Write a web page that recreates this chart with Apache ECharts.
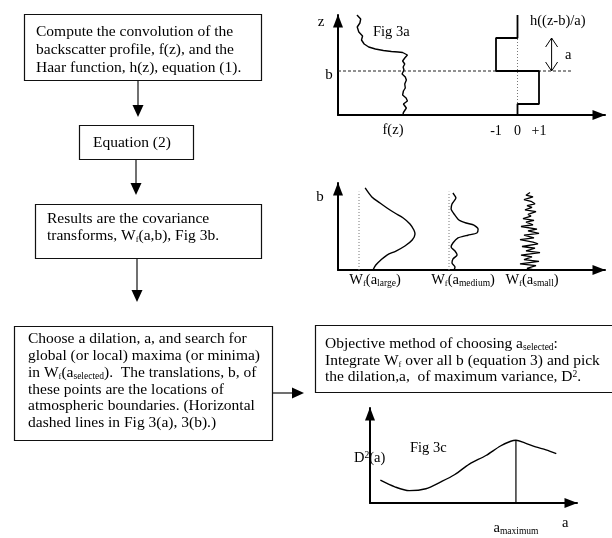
<!DOCTYPE html>
<html>
<head>
<meta charset="utf-8">
<title>Haar wavelet boundary detection</title>
<script src="https://cdn.jsdelivr.net/npm/echarts@6/dist/echarts.min.js"></script>
<style>
  html, body { margin: 0; padding: 0; background: #fff; }
  #chart { width: 612px; height: 538px; }
</style>
</head>
<body>
<div id="chart"></div>
<script>
// ---- Fig 3a: backscatter profile f(z) (height z on 0..10) ----
const profileZ = [10, 9.6, 9.2, 8.8, 8.3, 7.9, 7.5, 7.1, 6.8, 6.6, 6.45, 6.35, 6.3, 6.25, 6.0, 5.7, 5.4, 5.1, 4.8, 4.5, 4.1, 3.8, 3.5, 3.1, 2.7, 2.4, 2.0, 1.7, 1.4, 1.1, 0.9, 0.7, 0.5, 0.25, 0];
const profileF = [0.71, 0.85, 0.82, 0.72, 0.78, 0.92, 0.88, 0.98, 1.15, 1.4, 1.7, 2.0, 2.25, 2.42, 2.6, 2.5, 2.42, 2.5, 2.44, 2.47, 2.4, 2.52, 2.56, 2.5, 2.52, 2.45, 2.42, 2.55, 2.6, 2.45, 2.4, 2.56, 2.6, 2.45, 2.43];

// Haar function h((z-b)/a): translation b, dilation a
const haarB = 4.4;
const haarA = 3.3;
const haarZ = [10, 7.7, 7.7, 4.4, 4.4, 1.1, 1.1, 0];
const haarH = [0, 0, -1, -1, 1, 1, 0, 0];
const haarTicks = ['-1', '0', '+1'];

// ---- Fig 3b: covariance transforms W_f(a, b) for three dilations ----
const largeB = [9.43, 8.4, 7.7, 7.13, 6.55, 5.98, 5.29, 4.6, 4.14, 3.45, 2.76, 2.18, 1.72, 1.15, 0.57, 0];
const largeW = [0.11, 0.23, 0.375, 0.5, 0.64, 0.79, 0.91, 0.98, 1.0, 0.95, 0.82, 0.66, 0.5, 0.39, 0.3, 0.25];
const mediumB = [8.85, 8.28, 7.59, 7.0, 6.3, 5.75, 5.4, 5.17, 4.71, 4.25, 4.0, 3.68, 3.1, 2.64, 2.18, 1.72, 1.26, 0.8, 0.34, 0];
const mediumW = [0.13, 0.23, 0.1, 0.07, 0.2, 0.33, 0.57, 0.83, 0.97, 0.93, 0.63, 0.3, 0.13, 0.07, 0.2, 0.27, 0.13, 0.1, 0.2, 0.17];
const smallB = [8.9, 8.6, 8.4, 8.1, 7.9, 7.6, 7.4, 7.2, 6.9, 6.7, 6.4, 6.2, 5.9, 5.7, 5.5, 5.2, 5.0, 4.7, 4.5, 4.2, 4.0, 3.7, 3.5, 3.2, 3.0, 2.7, 2.5, 2.2, 2.0, 1.7, 1.5, 1.2, 1.0, 0.7, 0.5, 0.2, 0];
const smallW = [0.0, -0.4, 0.3, -0.6, 0.1, 0.5, -0.3, 0.2, -0.5, 0.6, -0.2, 0.1, -0.7, 0.4, -0.4, 0.3, -0.9, 0.7, -0.2, 0.9, -0.6, 0.4, -1.0, 0.3, 0.8, -0.8, 0.5, -0.4, 1.0, -0.9, 0.2, -0.6, 0.9, -1.0, 0.6, -0.3, 0.4];
const zeroLineTop = 9.0;

// ---- Fig 3c: variance D^2(a) against dilation a ----
const dilation = [0.5, 1.2, 1.9, 2.7, 3.4, 4.1, 4.8, 5.6, 6.3, 6.8, 7.05, 7.5, 8.0, 8.5, 9.0];
const variance = [2.4, 1.7, 1.3, 1.5, 2.2, 3.0, 4.1, 5.0, 6.0, 6.5, 6.6, 6.3, 5.9, 5.6, 5.2];
const aMaximum = 7.05;
const dMaximum = 6.6;

const FONT = '"Liberation Serif", "Times New Roman", serif';
const zip = (xs, ys) => xs.map((x, i) => [x, ys[i]]);

const richStyles = {
  s: { fontFamily: FONT, fontSize: 9.5, lineHeight: 8, verticalAlign: 'bottom', fill: '#000' },
  t: { fontFamily: FONT, fontSize: 8.5, lineHeight: 8, verticalAlign: 'bottom', fill: '#000' },
  p: { fontFamily: FONT, fontSize: 9.5, lineHeight: 8, verticalAlign: 'top', fill: '#000' }
};

function label(x, y, text, size, align, lineHeight) {
  return {
    type: 'text', x: x, y: y, z: 10,
    style: {
      text: text, fontFamily: FONT, fontSize: size, fill: '#000',
      align: align || 'left', textAlign: align || 'left',
      verticalAlign: 'top', textVerticalAlign: 'top',
      lineHeight: lineHeight || Math.round(size * 1.1),
      rich: richStyles
    }
  };
}

function box(x, y, w, h) {
  return { type: 'rect', shape: { x: x + 0.5, y: y + 0.5, width: w, height: h },
           style: { fill: '#fff', stroke: '#111', lineWidth: 1.2 }, z: 1 };
}

function arrowDown(x, y1, y2) {
  return [
    { type: 'line', shape: { x1: x, y1: y1, x2: x, y2: y2 - 8 }, style: { stroke: '#111', lineWidth: 1.2 }, z: 2 },
    { type: 'polygon', shape: { points: [[x - 5.5, y2 - 12], [x + 5.5, y2 - 12], [x, y2]] }, style: { fill: '#000' }, z: 2 }
  ];
}

function arrowRight(x1, x2, y) {
  return [
    { type: 'line', shape: { x1: x1, y1: y, x2: x2 - 8, y2: y }, style: { stroke: '#111', lineWidth: 1.2 }, z: 2 },
    { type: 'polygon', shape: { points: [[x2 - 12, y - 5.5], [x2 - 12, y + 5.5], [x2, y]] }, style: { fill: '#000' }, z: 2 }
  ];
}

const axisArrow = {
  show: true,
  symbol: ['none', 'triangle'],
  symbolSize: [10, 13],
  symbolOffset: [0, -6],
  lineStyle: { color: '#000', width: 2 }
};

function frameAxis(grid, min, max) {
  return {
    type: 'value', gridIndex: grid, min: min, max: max,
    axisLine: axisArrow, axisTick: { show: false }, axisLabel: { show: false }, splitLine: { show: false }
  };
}
function plainAxis(grid, min, max) {
  return { type: 'value', gridIndex: grid, min: min, max: max, show: false };
}

const black = { color: '#000', width: 1.4 };
const dotted = { color: '#777', width: 1, type: [1, 2] };

const chart = echarts.init(document.getElementById('chart'), null, { renderer: 'canvas' });

const option = {
  backgroundColor: '#fff',
  animation: false,
  grid: [
    { left: 338, top: 15, width: 267, height: 100 },   // 0 Fig 3a frame + profile
    { left: 496, top: 15, width: 43, height: 100 },    // 1 Haar function
    { left: 338, top: 183, width: 267, height: 87 },   // 2 Fig 3b frame
    { left: 359, top: 183, width: 56, height: 87 },    // 3 W_f(a_large)
    { left: 449, top: 183, width: 30, height: 87 },    // 4 W_f(a_medium)
    { left: 520, top: 183, width: 20, height: 87 },    // 5 W_f(a_small)
    { left: 370, top: 408, width: 207, height: 95 }    // 6 Fig 3c
  ],
  xAxis: [
    frameAxis(0, 0, 10),
    {
      type: 'value', gridIndex: 1, min: -1, max: 1, interval: 1,
      axisLine: { show: false }, axisTick: { show: false }, splitLine: { show: false },
      axisLabel: {
        show: true, margin: 9, fontFamily: FONT, fontSize: 14, color: '#000',
        formatter: v => haarTicks[v + 1]
      }
    },
    frameAxis(2, 0, 10),
    plainAxis(3, 0, 1),
    plainAxis(4, 0, 1),
    plainAxis(5, -1, 1),
    frameAxis(6, 0, 10)
  ],
  yAxis: [
    frameAxis(0, 0, 10),
    plainAxis(1, 0, 10),
    frameAxis(2, 0, 10),
    plainAxis(3, 0, 10),
    plainAxis(4, 0, 10),
    plainAxis(5, 0, 10),
    frameAxis(6, 0, 10)
  ],
  series: [
    // Fig 3a
    { type: 'line', xAxisIndex: 0, yAxisIndex: 0, data: zip(profileF, profileZ),
      symbol: 'none', lineStyle: black, z: 3 },
    { type: 'line', xAxisIndex: 0, yAxisIndex: 0, data: [[0, haarB], [8.8, haarB]],
      symbol: 'none', lineStyle: { color: '#222', width: 1, type: [3, 2] }, z: 2 },
    { type: 'custom', xAxisIndex: 0, yAxisIndex: 0, data: [[8.0, haarB, haarB + haarA]],
      renderItem: function (params, api) {
        const lo = api.coord([api.value(0), api.value(1)]);
        const hi = api.coord([api.value(0), api.value(2)]);
        const w = 6, h = 9;
        const st = { stroke: '#000', fill: null, lineWidth: 1 };
        return { type: 'group', children: [
          { type: 'line', shape: { x1: lo[0], y1: lo[1], x2: hi[0], y2: hi[1] }, style: st },
          { type: 'polyline', shape: { points: [[hi[0] - w, hi[1] + h], hi, [hi[0] + w, hi[1] + h]] }, style: st },
          { type: 'polyline', shape: { points: [[lo[0] - w, lo[1] - h], lo, [lo[0] + w, lo[1] - h]] }, style: st }
        ] };
      }, z: 3 },
    { type: 'line', xAxisIndex: 1, yAxisIndex: 1, data: [[0, 0], [0, haarB + haarA]],
      symbol: 'none', lineStyle: dotted, z: 2 },
    { type: 'line', xAxisIndex: 1, yAxisIndex: 1, data: zip(haarH, haarZ),
      symbol: 'none', lineStyle: { color: '#000', width: 1.8 }, clip: false, z: 3 },
    // Fig 3b
    { type: 'line', xAxisIndex: 3, yAxisIndex: 3, data: [[0, 0], [0, zeroLineTop]],
      symbol: 'none', lineStyle: dotted, z: 2 },
    { type: 'line', xAxisIndex: 3, yAxisIndex: 3, data: zip(largeW, largeB),
      symbol: 'none', smooth: 0.3, lineStyle: black, clip: false, z: 3 },
    { type: 'line', xAxisIndex: 4, yAxisIndex: 4, data: [[0, 0], [0, zeroLineTop]],
      symbol: 'none', lineStyle: dotted, z: 2 },
    { type: 'line', xAxisIndex: 4, yAxisIndex: 4, data: zip(mediumW, mediumB),
      symbol: 'none', smooth: 0.2, lineStyle: black, clip: false, z: 3 },
    { type: 'line', xAxisIndex: 5, yAxisIndex: 5, data: zip(smallW, smallB),
      symbol: 'none', lineStyle: { color: '#000', width: 1.3 }, clip: false, z: 3 },
    // Fig 3c
    { type: 'line', xAxisIndex: 6, yAxisIndex: 6, data: zip(dilation, variance),
      symbol: 'none', smooth: 0.3, lineStyle: black, z: 3 },
    { type: 'line', xAxisIndex: 6, yAxisIndex: 6, data: [[aMaximum, 0], [aMaximum, dMaximum]],
      symbol: 'none', lineStyle: { color: '#000', width: 1.2 }, z: 3 }
  ],
  graphic: [
    // flow chart
    box(24, 14, 237, 66),
    label(36, 23, 'Compute the convolution of the\nbackscatter profile, f(z), and the\nHaar function, h(z), equation (1).', 15.5, 'left', 18),
    ...arrowDown(138, 80, 117),
    box(79, 125, 114, 34),
    label(93, 134, 'Equation (2)', 15.5, 'left', 17),
    ...arrowDown(136, 159, 195),
    box(35, 204, 226, 54),
    label(47, 210, 'Results are the covariance\ntransforms, W{t|f}(a,b), Fig 3b.', 15.5, 'left', 17),
    ...arrowDown(137, 258, 302),
    box(14, 326, 258, 114),
    label(28, 331, 'Choose a dilation, a, and search for\nglobal (or local) maxima (or minima)\nin W{t|f}(a{s|selected}).  The translations, b, of\nthese points are the locations of\natmospheric boundaries. (Horizontal\ndashed lines in Fig 3(a), 3(b).)', 15.5, 'left', 16.7),
    ...arrowRight(273, 304, 393),
    box(315, 325, 310, 67),
    label(325, 336, 'Objective method of choosing a{s|selected}:\nIntegrate W{t|f} over all b (equation 3) and pick\nthe dilation,a,  of maximum variance, D{p|2}.', 15.5, 'left', 16.5),
    // Fig 3a labels
    label(321, 14, 'z', 15, 'center', 16),
    label(373, 24, 'Fig 3a', 14.5, 'left', 16),
    label(329, 67, 'b', 15, 'center', 16),
    label(393, 122, 'f(z)', 14.5, 'center', 16),
    label(530, 13, 'h((z-b)/a)', 14.5, 'left', 16),
    label(565, 47, 'a', 14.5, 'left', 16),
    // Fig 3b labels
    label(320, 189, 'b', 15, 'center', 16),
    label(375, 272, 'W{t|f}(a{s|large})', 14.5, 'center', 16),
    label(463, 272, 'W{t|f}(a{s|medium})', 14.5, 'center', 16),
    label(532, 272, 'W{t|f}(a{s|small})', 14.5, 'center', 16),
    // Fig 3c labels
    label(410, 440, 'Fig 3c', 14.5, 'left', 16),
    label(354, 450, 'D{p|2}(a)', 14.5, 'left', 16),
    label(562, 515, 'a', 14.5, 'left', 16),
    label(516, 520, 'a{s|maximum}', 14.5, 'center', 16)
  ]
};

chart.setOption(option);
</script>
</body>
</html>
